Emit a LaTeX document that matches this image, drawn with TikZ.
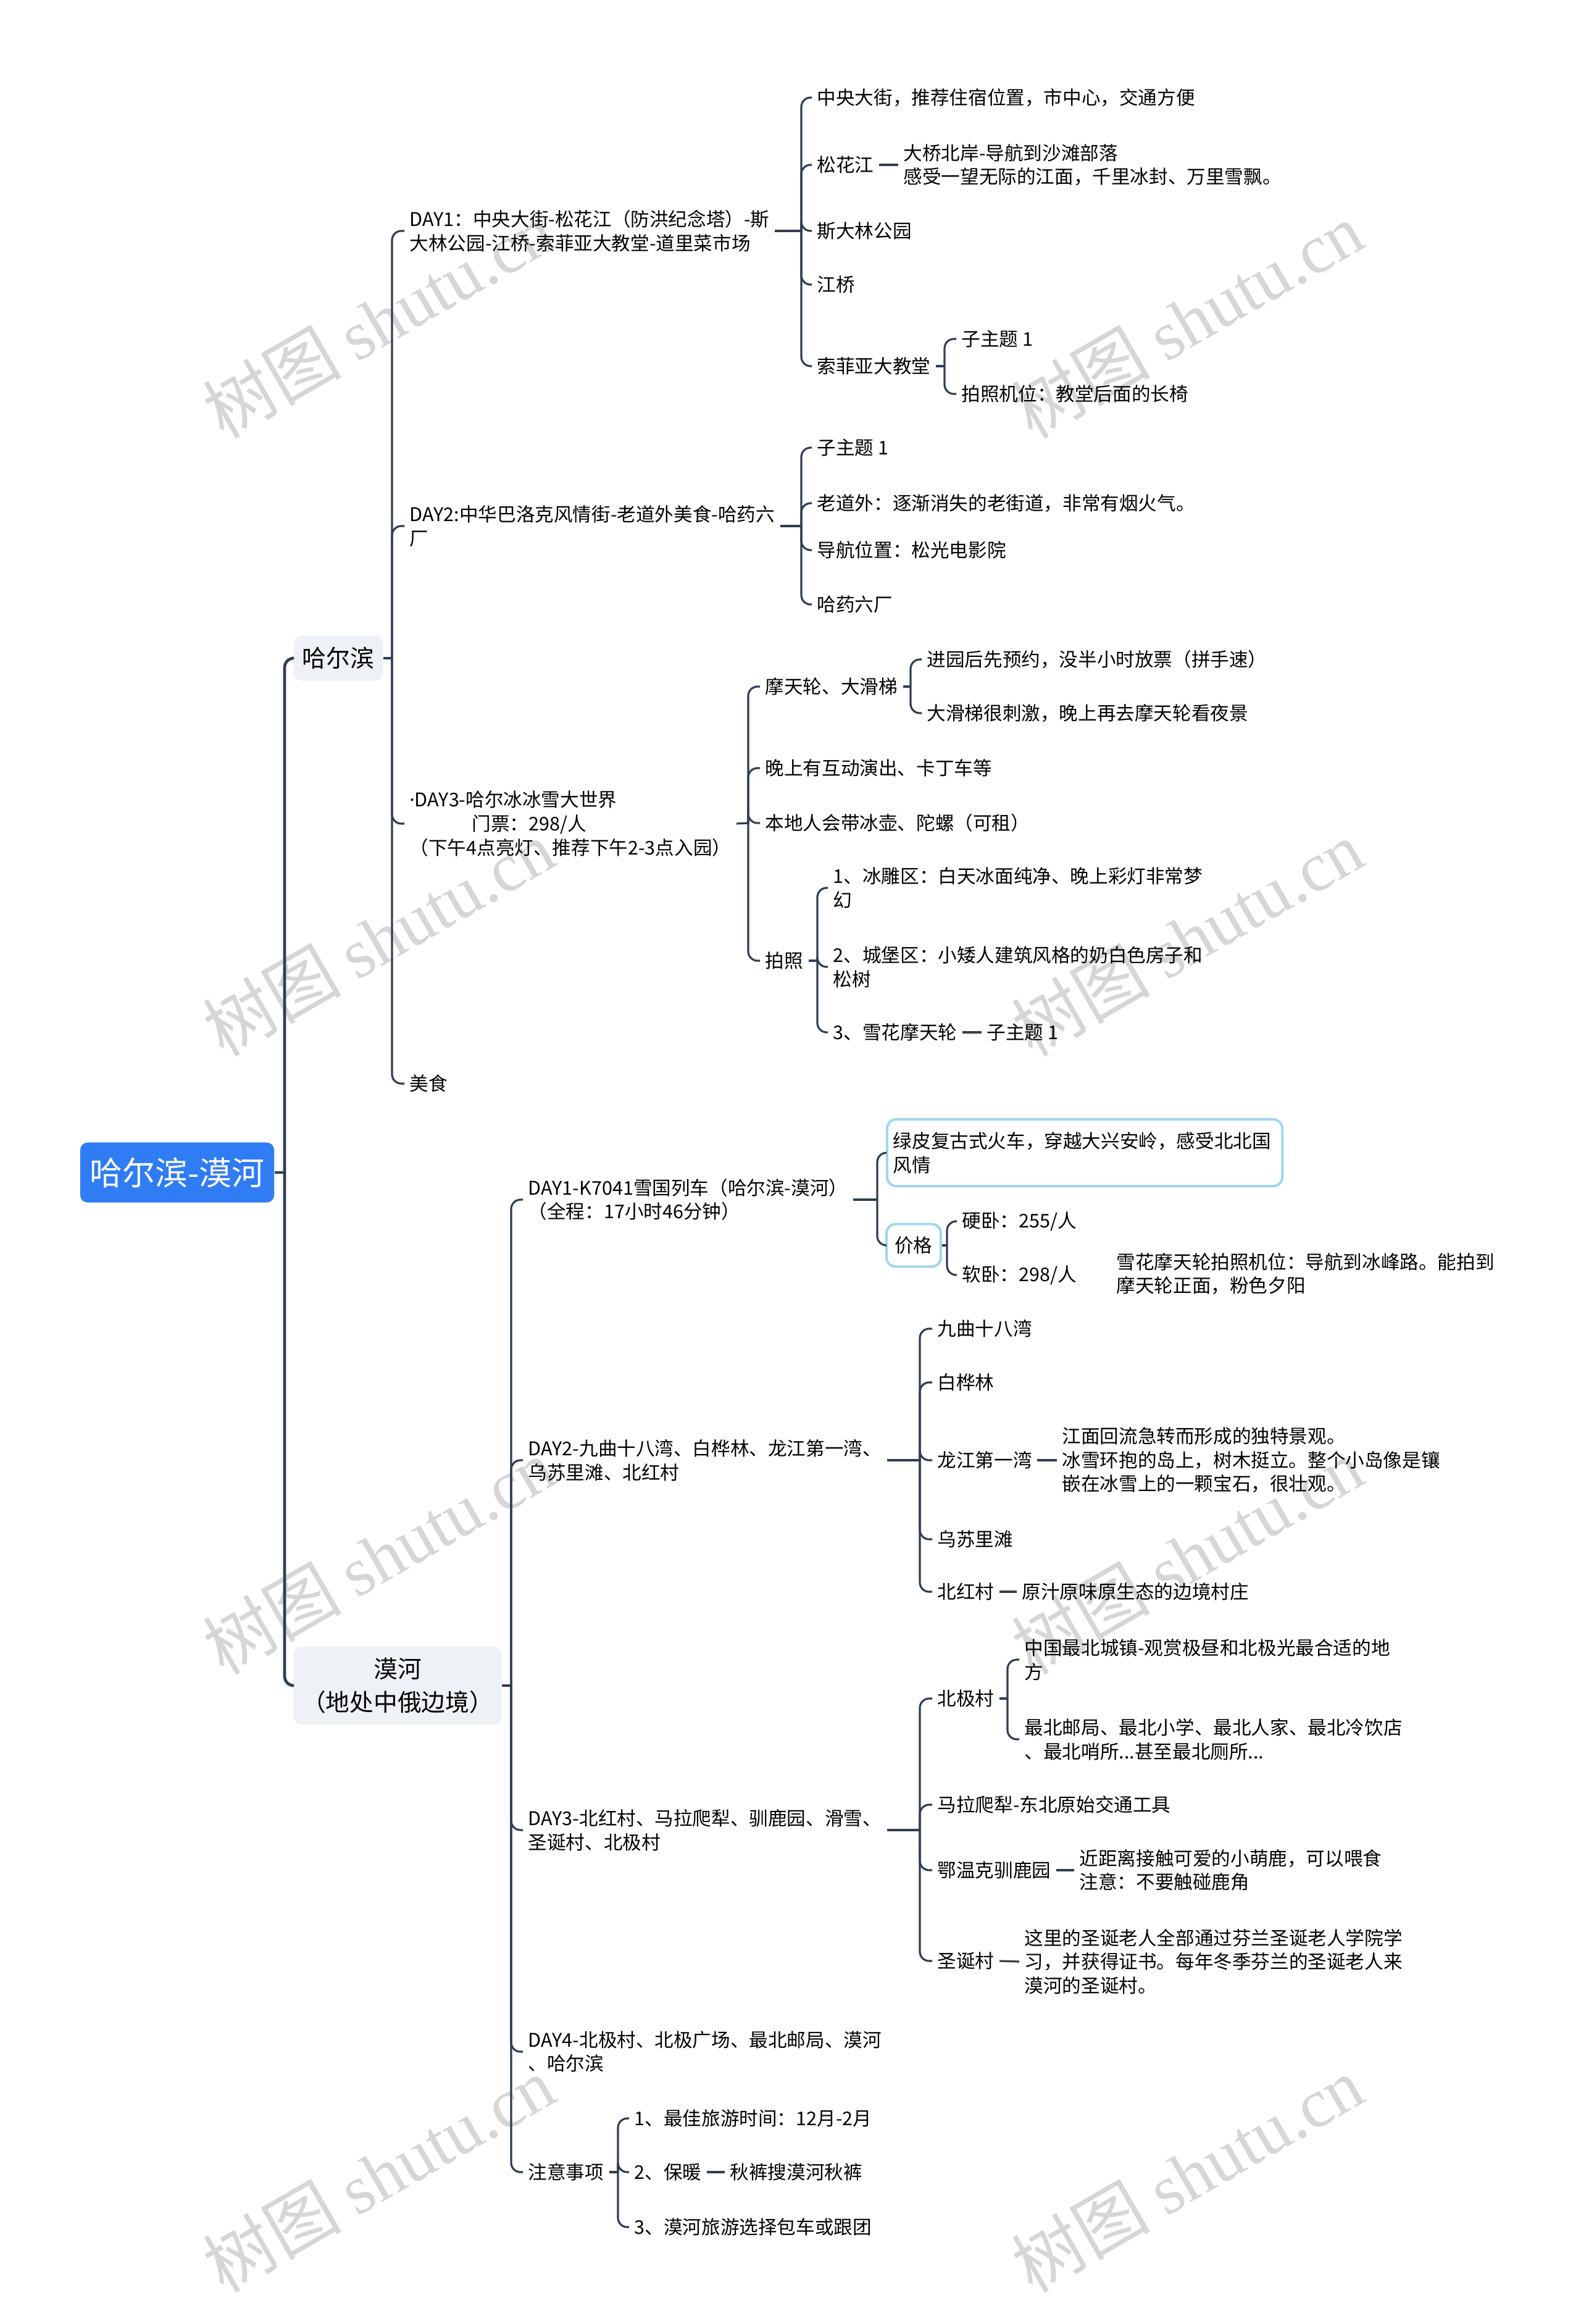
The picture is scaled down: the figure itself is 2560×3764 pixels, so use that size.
\documentclass[tikz,border=0pt]{standalone}
\usepackage{fontspec}
\setmainfont{Noto Sans CJK SC}
\newfontfamily\wmserif{Liberation Serif}
\newfontfamily\latinsans{Noto Sans}
\usepackage{xcolor}
\definecolor{linenavy}{HTML}{2F3E52}
\definecolor{rootblue}{HTML}{2F7CF4}
\definecolor{mainfill}{HTML}{EEF1F5}
\definecolor{skyline}{HTML}{9DD6EF}
\definecolor{wmgray}{HTML}{D6D6D6}
\usepackage{tikz}
\newcommand{\smallsz}{\fontsize{8.7pt}{11pt}\selectfont}

\begin{document}
\begin{tikzpicture}[x=0.01cm, y=-0.01cm, font=\smallsz,
  topic/.style={anchor=west, inner xsep=0.08cm, inner ysep=1pt, align=left},
  link/.style={draw=linenavy, line width=0.9pt, rounded corners=0.15cm},
  trunk/.style={link, line width=1.35pt},
  mainbox/.style={fill=mainfill, rounded corners=0.12cm, align=center,
    font=\fontsize{11pt}{15.5pt}\selectfont},
  skybox/.style={anchor=west, draw=skyline, line width=1.1pt, fill=white,
    rounded corners=0.15cm},
  wm/.style={text=wmgray, rotate=30, font=\fontsize{32pt}{34pt}\selectfont}]
  \useasboundingbox (0,0) rectangle (2560,3764);

  % watermark
  \node[wm] (wm1) at (613,518) {树图 {\wmserif shutu.cn}};
  \node[wm] (wm2) at (1923,518) {树图 {\wmserif shutu.cn}};
  \node[wm] (wm3) at (613,1519) {树图 {\wmserif shutu.cn}};
  \node[wm] (wm4) at (1923,1519) {树图 {\wmserif shutu.cn}};
  \node[wm] (wm5) at (613,2520) {树图 {\wmserif shutu.cn}};
  \node[wm] (wm6) at (1923,2520) {树图 {\wmserif shutu.cn}};
  \node[wm] (wm7) at (613,3521) {树图 {\wmserif shutu.cn}};
  \node[wm] (wm8) at (1923,3521) {树图 {\wmserif shutu.cn}};

  % root and main branches
  \node[fill=rootblue, text=white, rounded corners=0.12cm, minimum width=3.14cm,
    minimum height=0.97cm, font=\fontsize{15pt}{18pt}\selectfont] (root) at (287,1899) {哈尔滨-漠河};
  \node[mainbox, minimum width=1.44cm, minimum height=0.73cm] (hrb) at (548,1066) {哈尔滨};
  \node[mainbox, minimum width=3.37cm, minimum height=1.26cm] (mh) at (644,2730) {漠河\\（地处中俄边境）};
  \coordinate (jroot) at (461,1899);
  \coordinate (jhrb) at (635,1066);
  \coordinate (jmh) at (828,2730);

  % 哈尔滨
  \node[topic] (hd1) at (655,374) {DAY1：中央大街-松花江（防洪纪念塔）-斯\\大林公园-江桥-索菲亚大教堂-道里菜市场};
  \node[topic] (hd2) at (655,852) {DAY2:中华巴洛克风情街-老道外美食-哈药六\\厂};
  \node[topic] (hd3) at (655,1334) {{\latinsans ·}DAY3-哈尔冰冰雪大世界\\\hspace*{3.3em}门票：298/人\\（下午4点亮灯、推荐下午2-3点入园）};
  \node[topic] (food) at (655,1755) {美食};
  \coordinate (jhd1) at (1298,374);
  \coordinate (jhd2) at (1298,852);
  \coordinate (jhd3) at (1212,1333);

  \node[topic] (a1) at (1315,158) {中央大街，推荐住宿位置，市中心，交通方便};
  \node[topic] (a2) at (1315,267) {松花江};
  \node[topic] (a2x) at (1455,267) {大桥北岸-导航到沙滩部落\\感受一望无际的江面，千里冰封、万里雪飘。};
  \node[topic] (a3) at (1315,374) {斯大林公园};
  \node[topic] (a4) at (1315,461) {江桥};
  \node[topic] (a5) at (1315,593) {索菲亚大教堂};
  \coordinate (ja5) at (1530,593);
  \node[topic] (a5a) at (1549,549) {子主题 1};
  \node[topic] (a5b) at (1549,638) {拍照机位：教堂后面的长椅};

  \node[topic] (b1) at (1315,725) {子主题 1};
  \node[topic] (b2) at (1315,815) {老道外：逐渐消失的老街道，非常有烟火气。};
  \node[topic] (b3) at (1315,891) {导航位置：松光电影院};
  \node[topic] (b4) at (1315,979) {哈药六厂};

  \node[topic] (c1) at (1231,1112) {摩天轮、大滑梯};
  \coordinate (jc1) at (1475,1112);
  \node[topic] (c1a) at (1493,1068) {进园后先预约，没半小时放票（拼手速）};
  \node[topic] (c1b) at (1493,1155) {大滑梯很刺激，晚上再去摩天轮看夜景};
  \node[topic] (c2) at (1231,1244) {晚上有互动演出、卡丁车等};
  \node[topic] (c3) at (1231,1333) {本地人会带冰壶、陀螺（可租）};
  \node[topic] (c4) at (1231,1556) {拍照};
  \coordinate (jc4) at (1324,1556);
  \node[topic] (c4a) at (1341,1438) {1、冰雕区：白天冰面纯净、晚上彩灯非常梦\\幻};
  \node[topic] (c4b) at (1341,1566) {2、城堡区：小矮人建筑风格的奶白色房子和\\松树};
  \node[topic] (c4c) at (1341,1672) {3、雪花摩天轮};
  \node[topic] (c4cx) at (1590,1672) {子主题 1};

  % 漠河
  \node[topic] (md1) at (847,1943) {DAY1-K7041雪国列车（哈尔滨-漠河）\\（全程：17小时46分钟）};
  \node[topic] (md2) at (847,2365) {DAY2-九曲十八湾、白桦林、龙江第一湾、\\乌苏里滩、北红村};
  \node[topic] (md3) at (847,2964) {DAY3-北红村、马拉爬犁、驯鹿园、滑雪、\\圣诞村、北极村};
  \node[topic] (md4) at (847,3323) {DAY4-北极村、北极广场、最北邮局、漠河\\、哈尔滨};
  \node[topic] (md5) at (847,3518) {注意事项};
  \coordinate (jmd1) at (1421,1943);
  \coordinate (jmd2) at (1490,2365);
  \coordinate (jmd3) at (1490,2964);
  \coordinate (jmd5) at (1001,3518);

  \node[skybox, text width=6.2cm, inner xsep=0.1cm, minimum height=1.08cm, align=left] (train) at (1435,1867) {绿皮复古式火车，穿越大兴安岭，感受北北国\\风情};
  \node[skybox, minimum width=0.88cm, minimum height=0.69cm, inner xsep=0.1cm] (price) at (1434,2017) {价格};
  \coordinate (jprice) at (1534,2017);
  \node[topic] (p1) at (1550,1978) {硬卧：255/人};
  \node[topic] (p2) at (1550,2065) {软卧：298/人};
  \node[topic] (wheel) at (1800,2063) {雪花摩天轮拍照机位：导航到冰峰路。能拍到\\摩天轮正面，粉色夕阳};

  \node[topic] (e1) at (1510,2152) {九曲十八湾};
  \node[topic] (e2) at (1510,2239) {白桦林};
  \node[topic] (e3) at (1510,2365) {龙江第一湾};
  \node[topic] (e3x) at (1712,2365) {江面回流急转而形成的独特景观。\\冰雪环抱的岛上，树木挺立。整个小岛像是镶\\嵌在冰雪上的一颗宝石，很壮观。};
  \node[topic] (e4) at (1510,2493) {乌苏里滩};
  \node[topic] (e5) at (1510,2578) {北红村};
  \node[topic] (e5x) at (1647,2578) {原汁原味原生态的边境村庄};

  \node[topic] (f1) at (1510,2751) {北极村};
  \coordinate (jf1) at (1632,2751);
  \node[topic] (f1a) at (1651,2688) {中国最北城镇-观赏极昼和北极光最合适的地\\方};
  \node[topic] (f1b) at (1651,2817) {最北邮局、最北小学、最北人家、最北冷饮店\\、最北哨所...甚至最北厕所...};
  \node[topic] (f2) at (1510,2923) {马拉爬犁-东北原始交通工具};
  \node[topic] (f3) at (1510,3029) {鄂温克驯鹿园};
  \node[topic] (f3x) at (1740,3029) {近距离接触可爱的小萌鹿，可以喂食\\注意：不要触碰鹿角};
  \node[topic] (f4) at (1510,3176) {圣诞村};
  \node[topic] (f4x) at (1651,3177) {这里的圣诞老人全部通过芬兰圣诞老人学院学\\习，并获得证书。每年冬季芬兰的圣诞老人来\\漠河的圣诞村。};

  \node[topic] (g1) at (1019,3431) {1、最佳旅游时间：12月-2月};
  \node[topic] (g2) at (1019,3518) {2、保暖};
  \node[topic] (g2x) at (1174,3518) {秋裤搜漠河秋裤};
  \node[topic] (g3) at (1019,3607) {3、漠河旅游选择包车或跟团};

  % connectors
  \draw[trunk] (root.east) -- (jroot);
  \draw[trunk] (jroot) |- (hrb.west);
  \draw[trunk] (jroot) |- (mh.west);

  \draw[link] (hrb.east) -- (jhrb);
  \draw[link] (jhrb) |- (hd1.west);
  \draw[link] (jhrb) |- (hd2.west);
  \draw[link] (jhrb) |- (hd3.west);
  \draw[link] (jhrb) |- (food.west);

  \draw[link] (hd1.east) -- (jhd1);
  \draw[link] (jhd1) |- (a1.west);
  \draw[link] (jhd1) |- (a2.west);
  \draw[link] (jhd1) |- (a3.west);
  \draw[link] (jhd1) |- (a4.west);
  \draw[link] (jhd1) |- (a5.west);
  \draw[link] (a2.east) -- (a2x.west);
  \draw[link] (a5.east) -- (ja5);
  \draw[link] (ja5) |- (a5a.west);
  \draw[link] (ja5) |- (a5b.west);

  \draw[link] (hd2.east) -- (jhd2);
  \draw[link] (jhd2) |- (b1.west);
  \draw[link] (jhd2) |- (b2.west);
  \draw[link] (jhd2) |- (b3.west);
  \draw[link] (jhd2) |- (b4.west);

  \draw[link] (hd3.east) -- (jhd3);
  \draw[link] (jhd3) |- (c1.west);
  \draw[link] (jhd3) |- (c2.west);
  \draw[link] (jhd3) |- (c3.west);
  \draw[link] (jhd3) |- (c4.west);
  \draw[link] (c1.east) -- (jc1);
  \draw[link] (jc1) |- (c1a.west);
  \draw[link] (jc1) |- (c1b.west);
  \draw[link] (c4.east) -- (jc4);
  \draw[link] (jc4) |- (c4a.west);
  \draw[link] (jc4) |- (c4b.west);
  \draw[link] (jc4) |- (c4c.west);
  \draw[link] (c4c.east) -- (c4cx.west);

  \draw[link] (mh.east) -- (jmh);
  \draw[link] (jmh) |- (md1.west);
  \draw[link] (jmh) |- (md2.west);
  \draw[link] (jmh) |- (md3.west);
  \draw[link] (jmh) |- (md4.west);
  \draw[link] (jmh) |- (md5.west);

  \draw[link] (md1.east) -- (jmd1);
  \draw[link] (jmd1) |- (train.west);
  \draw[link] (jmd1) |- (price.west);
  \draw[link] (price.east) -- (jprice);
  \draw[link] (jprice) |- (p1.west);
  \draw[link] (jprice) |- (p2.west);

  \draw[link] (md2.east) -- (jmd2);
  \draw[link] (jmd2) |- (e1.west);
  \draw[link] (jmd2) |- (e2.west);
  \draw[link] (jmd2) |- (e3.west);
  \draw[link] (jmd2) |- (e4.west);
  \draw[link] (jmd2) |- (e5.west);
  \draw[link] (e3.east) -- (e3x.west);
  \draw[link] (e5.east) -- (e5x.west);

  \draw[link] (md3.east) -- (jmd3);
  \draw[link] (jmd3) |- (f1.west);
  \draw[link] (jmd3) |- (f2.west);
  \draw[link] (jmd3) |- (f3.west);
  \draw[link] (jmd3) |- (f4.west);
  \draw[link] (f1.east) -- (jf1);
  \draw[link] (jf1) |- (f1a.west);
  \draw[link] (jf1) |- (f1b.west);
  \draw[link] (f3.east) -- (f3x.west);
  \draw[link] (f4.east) -- (f4x.west);

  \draw[link] (md5.east) -- (jmd5);
  \draw[link] (jmd5) |- (g1.west);
  \draw[link] (jmd5) |- (g2.west);
  \draw[link] (jmd5) |- (g3.west);
  \draw[link] (g2.east) -- (g2x.west);
\end{tikzpicture}
\end{document}
